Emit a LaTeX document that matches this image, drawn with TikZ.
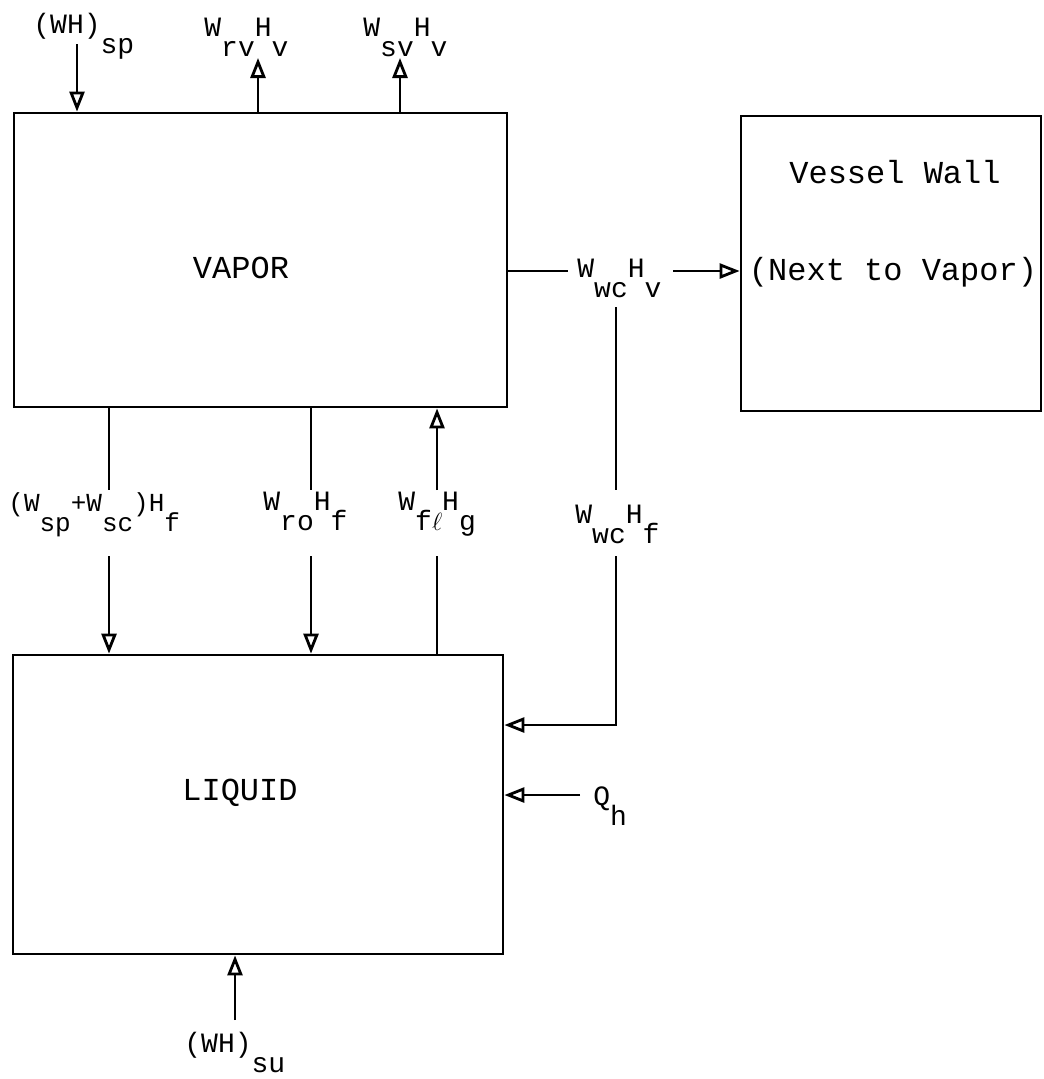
\documentclass[tikz,border=0pt]{standalone}
\usepackage{fontspec}
\setmainfont{Liberation Mono}
\usetikzlibrary{arrows.meta}
\newcommand{\lowsub}[1]{\raisebox{-20pt}{#1}}

\begin{document}
\begin{tikzpicture}[
    x=1pt, y=-1pt,
    line width=2.8pt,
    box/.style 2 args={draw, inner sep=0pt, minimum width=#1, minimum height=#2},
    txt/.style={font=\fontsize{32}{38}\selectfont, inner sep=0pt, anchor=base},
    lbl/.style={font=\fontsize{28}{34}\selectfont, inner sep=0pt, anchor=base west},
    arr/.style={-{Triangle[open, length=20pt, width=15pt]}},
    wire/.style={-},
]
\useasboundingbox (0,0) rectangle (1044,1079);

% the three control volumes
\node[box={493pt}{294pt}] (vapor) at (260.5,260) {};
\node[box={490pt}{299pt}] (liquid) at (258,804.5) {};
\node[box={300pt}{295pt}] (wall) at (891,263.5) {};
\node[txt] (vaporTxt) at (241,278) {VAPOR};
\node[txt] (liquidTxt) at (240,800) {LIQUID};
\node[txt] (wallTxt) at (895,183) {Vessel Wall};
\node[txt] (wallSub) at (893,280) {(Next to Vapor)};

% flow labels
\node[lbl] (spLbl) at (32,33) {(WH)\lowsub{sp}};
\node[lbl] (rvLbl) at (203,36) {W\lowsub{rv}H\lowsub{v}};
\node[lbl] (svLbl) at (362,36) {W\lowsub{sv}H\lowsub{v}};
\node[lbl] (wcvLbl) at (576,277) {W\lowsub{wc}H\lowsub{v}};
\node[lbl, font=\fontsize{26}{30}\selectfont] (spscLbl) at (7,511) {(W\lowsub{sp}+W\lowsub{sc})H\lowsub{f}};
\node[lbl] (roLbl) at (262,510) {W\lowsub{ro}H\lowsub{f}};
\node[lbl] (flLbl) at (397,510) {W\lowsub{f\ensuremath{\ell}}H\lowsub{g}};
\node[lbl] (wcfLbl) at (574,523) {W\lowsub{wc}H\lowsub{f}};
\node[lbl] (qhLbl) at (592,805) {Q\lowsub{h}};
\node[lbl] (suLbl) at (183,1052) {(WH)\lowsub{su}};

% free ends of the connectors
\coordinate (spTail) at (77,44);
\coordinate (rvTip) at (258,58);
\coordinate (svTip) at (400,58);
\coordinate (wcvA) at (568,271);
\coordinate (wcvB) at (673,271);
\coordinate (wcTop) at (616,307);
\coordinate (wcMid) at (616,490);
\coordinate (wcLow) at (616,556);
\coordinate (wcTurn) at (616,725);
\coordinate (spscUp) at (109,490);
\coordinate (spscDn) at (109,556);
\coordinate (roUp) at (311,490);
\coordinate (roDn) at (311,556);
\coordinate (flUp) at (437,490);
\coordinate (flDn) at (437,556);
\coordinate (qhTail) at (580,795);
\coordinate (suTail) at (235,1020);

% vapor connections
\draw[arr] (spTail) -- (spTail |- vapor.north);
\draw[arr] (vapor.north -| rvTip) -- (rvTip);
\draw[arr] (vapor.north -| svTip) -- (svTip);
\draw[wire] (vapor.east |- wcvA) -- (wcvA);
\draw[arr] (wcvB) -- (wall.west |- wcvB);
\draw[wire] (wcTop) -- (wcMid);
\draw[arr] (wcLow) -- (wcTurn) -- (liquid.east |- wcTurn);

% vapor to liquid
\draw[wire] (vapor.south -| spscUp) -- (spscUp);
\draw[arr] (spscDn) -- (liquid.north -| spscDn);
\draw[wire] (vapor.south -| roUp) -- (roUp);
\draw[arr] (roDn) -- (liquid.north -| roDn);
\draw[wire] (liquid.north -| flDn) -- (flDn);
\draw[arr] (flUp) -- (vapor.south -| flUp);

% liquid inputs
\draw[arr] (qhTail) -- (liquid.east |- qhTail);
\draw[arr] (suTail) -- (liquid.south -| suTail);
\end{tikzpicture}
\end{document}
